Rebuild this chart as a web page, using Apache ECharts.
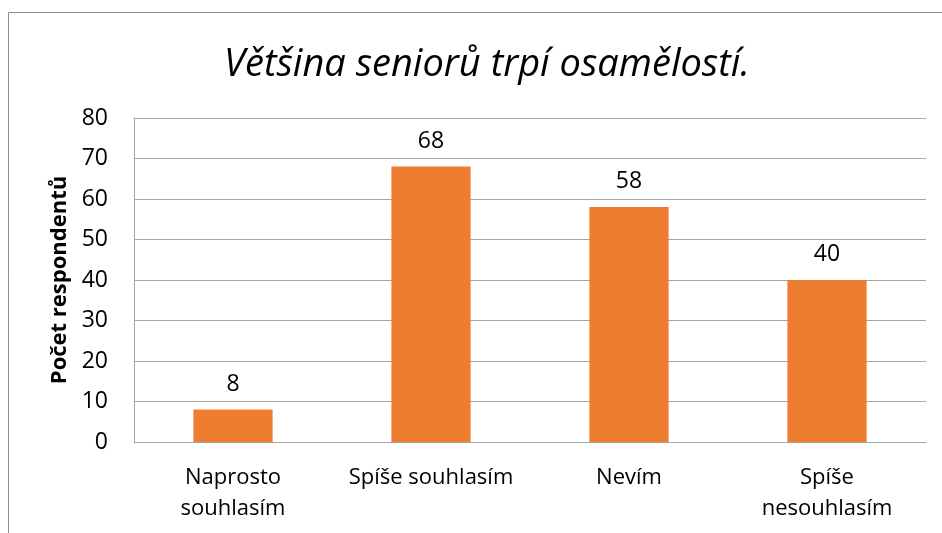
<!DOCTYPE html>
<html>
<head>
<meta charset="utf-8">
<script src="https://cdn.jsdelivr.net/npm/echarts@6/dist/echarts.min.js"></script>
<style>
html, body { margin: 0; padding: 0; background: #fff; }
#chartDiv { width: 942px; height: 533px; }
</style>
</head>
<body>
<div id="chartDiv"></div>
<script>
// data
let categories = ['Naprosto\nsouhlasím', 'Spíše souhlasím', 'Nevím', 'Spíše\nnesouhlasím'];
let values = [8, 68, 58, 40];
let yTicks = [0, 80, 10]; // min, max, interval

let myChart = echarts.init(document.getElementById('chartDiv'));
window.onresize = myChart.resize;

let fontFam = 'Open Sans';

let option = {
    backgroundColor: '#ffffff',
    animation: false,
    title: {
        text: 'Většina seniorů trpí osamělostí.',
        left: 482,
        top: 41,
        textAlign: 'center',
        textStyle: {
            fontFamily: fontFam,
            fontStyle: 'italic',
            fontWeight: 'normal',
            fontSize: 38,
            color: '#000'
        }
    },
    graphic: [
        {
            type: 'rect',
            shape: { x: 8.5, y: 12.5, width: 960, height: 560 },
            style: { fill: 'none', stroke: '#8c8c8c', lineWidth: 1 },
            silent: true
        }
    ],
    grid: {
        left: 134,
        right: 16,
        top: 118,
        bottom: 91
    },
    xAxis: {
        type: 'category',
        data: categories,
        axisTick: { show: false },
        axisLine: { lineStyle: { color: '#a6a6a6', width: 1 } },
        axisLabel: {
            fontFamily: fontFam,
            fontSize: 22,
            color: '#000',
            lineHeight: 31,
            margin: 20,
            interval: 0
        }
    },
    yAxis: {
        type: 'value',
        min: yTicks[0],
        max: yTicks[1],
        interval: yTicks[2],
        name: 'Počet respondentů',
        nameLocation: 'middle',
        nameGap: 62,
        nameTextStyle: {
            fontFamily: fontFam,
            fontWeight: 'bold',
            fontSize: 22,
            color: '#000'
        },
        axisLine: { show: true, lineStyle: { color: '#a6a6a6', width: 1 } },
        axisTick: { show: false },
        splitLine: { lineStyle: { color: '#a6a6a6', width: 1 } },
        axisLabel: {
            fontFamily: fontFam,
            fontSize: 23,
            color: '#000',
            margin: 26
        }
    },
    series: [
        {
            type: 'bar',
            data: values,
            barWidth: '40%',
            itemStyle: { color: '#ed7d31' },
            label: {
                show: true,
                position: 'top',
                distance: 14,
                fontFamily: fontFam,
                fontSize: 23,
                color: '#000'
            }
        }
    ]
};
myChart.setOption(option);
</script>
</body>
</html>
